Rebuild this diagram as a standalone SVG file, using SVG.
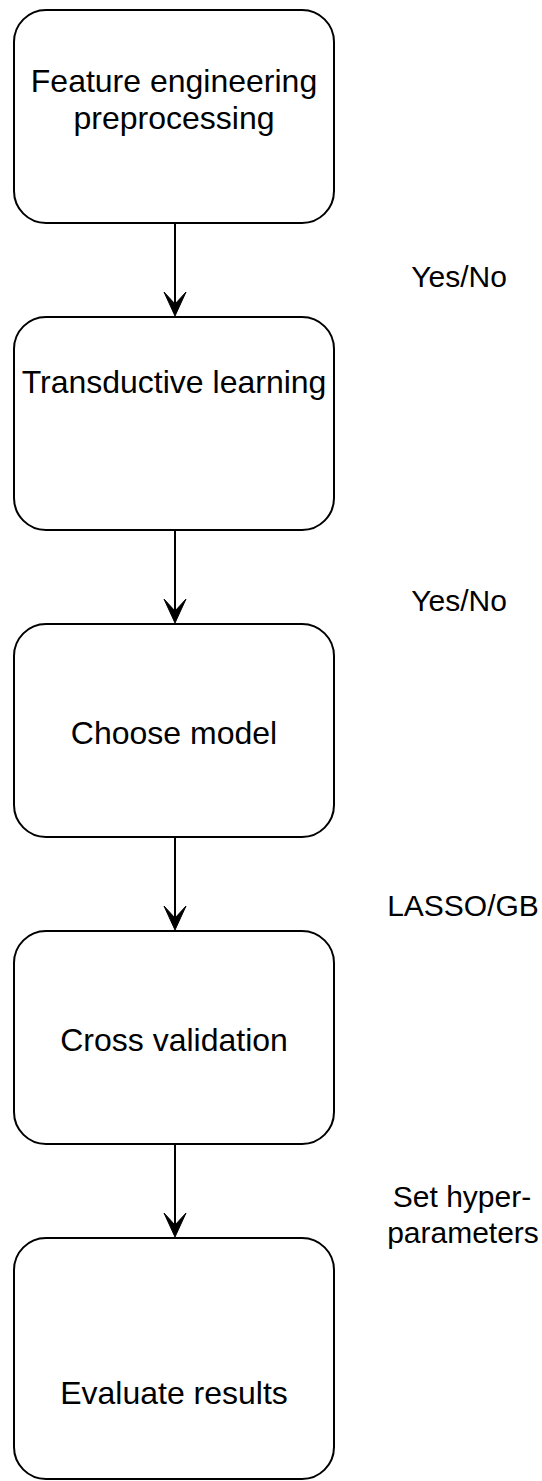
<svg xmlns="http://www.w3.org/2000/svg" width="542" height="1481" viewBox="0 0 542 1481">
<style>
.box{fill:#fff;stroke:#000;stroke-width:2}
.t{font-family:"Liberation Sans",Arial,sans-serif;font-size:32px;fill:#000;text-anchor:middle}
.l{font-family:"Liberation Sans",Arial,sans-serif;font-size:30px;fill:#000;text-anchor:middle}
.c{stroke:#000;stroke-width:2;fill:none}
</style>
<defs>
<path id="ah" d="M0,0 L-11,-24 L0,-12 L11,-24 Z" fill="#000" stroke="#000" stroke-width="1"/>
</defs>
<rect width="542" height="1481" fill="#fff"/>
<g id="connectors">
<line class="c" x1="175" y1="223" x2="175" y2="305"/>
<use href="#ah" x="175" y="316"/>
<line class="c" x1="175" y1="530" x2="175" y2="612"/>
<use href="#ah" x="175" y="623"/>
<line class="c" x1="175" y1="837" x2="175" y2="919"/>
<use href="#ah" x="175" y="930"/>
<line class="c" x1="175" y1="1144" x2="175" y2="1226"/>
<use href="#ah" x="175" y="1237"/>
</g>
<g id="n1"><rect class="box" x="14" y="10" width="320" height="213" rx="32"/>
<text class="t" x="174" y="92">Feature engineering</text>
<text class="t" x="174" y="129">preprocessing</text></g>
<g id="n2"><rect class="box" x="14" y="317" width="320" height="213" rx="32"/>
<text class="t" x="174" y="393">Transductive learning</text></g>
<g id="n3"><rect class="box" x="14" y="624" width="320" height="213" rx="32"/>
<text class="t" x="174" y="744">Choose model</text></g>
<g id="n4"><rect class="box" x="14" y="931" width="320" height="213" rx="32"/>
<text class="t" x="174" y="1051">Cross validation</text></g>
<g id="n5"><rect class="box" x="14" y="1238" width="320" height="241" rx="32"/>
<text class="t" x="174" y="1404">Evaluate results</text></g>
<g id="labels">
<text class="l" x="459" y="287">Yes/No</text>
<text class="l" x="459" y="611">Yes/No</text>
<text class="l" x="463" y="916">LASSO/GB</text>
<text class="l" x="462" y="1207">Set hyper-</text>
<text class="l" x="463" y="1243">parameters</text>
</g>
</svg>
